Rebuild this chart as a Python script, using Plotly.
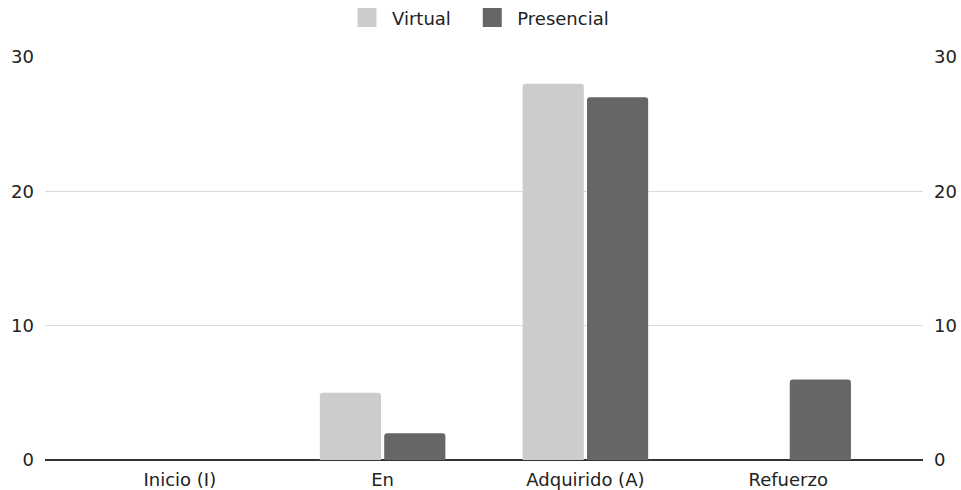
import plotly.graph_objects as go

categories = ["Inicio (I)", "En", "Adquirido (A)", "Refuerzo"]
virtual = [0, 5, 28, 0]
presencial = [0, 2, 27, 6]
y_ticks = [0, 10, 20, 30]
series_names = ["Virtual", "Presencial"]
series_colors = ["#cccccc", "#666666"]

fig = go.Figure()
for name, vals, col in zip(series_names, [virtual, presencial], series_colors):
    fig.add_trace(go.Bar(name=name, x=categories, y=vals, showlegend=False,
                         marker=dict(color=col, line=dict(width=0))))
# legend proxies (square swatches); trailing nbsp widens the gap between entries
for name, col in zip(series_names, series_colors):
    fig.add_trace(go.Scatter(name=name + "\u00a0\u00a0", x=[None], y=[None], mode="markers",
                             marker=dict(symbol="square", size=20, color=col,
                                         line=dict(width=3, color=col))))
fig.add_trace(go.Scatter(x=categories, y=virtual, yaxis="y2", mode="markers",
                         marker=dict(opacity=0), showlegend=False, hoverinfo="skip"))

font = dict(family="DejaVu Sans, Liberation Sans, Arial, sans-serif", size=18, color="#222222")
fig.update_layout(
    width=961, height=490,
    margin=dict(l=45, r=38, t=57, b=30, autoexpand=False),
    paper_bgcolor="white", plot_bgcolor="white",
    barmode="group", bargap=0.365, bargroupgap=0.05,
    barcornerradius=3,
    font=font,
    legend=dict(orientation="h", x=0.5, xanchor="center", y=1.097, yanchor="middle",
                font=font, traceorder="normal", itemwidth=40),
    xaxis=dict(showgrid=False, showline=False, ticks="", tickfont=font, automargin=False,
               range=[-0.665, 3.665], ticklabelstandoff=7),
    yaxis=dict(range=[0, 30], tickvals=y_ticks, showgrid=True, gridcolor="#d9d9d9",
               zeroline=True, zerolinecolor="#333333", zerolinewidth=1.5,
               showline=False, ticks="", ticklabelstandoff=10, tickfont=font, automargin=False),
    yaxis2=dict(range=[0, 30], tickvals=y_ticks, overlaying="y", side="right",
                showgrid=False, zeroline=False, showline=False, ticks="",
                ticklabelstandoff=10, tickfont=font, automargin=False),
)
fig.write_html("out.html", config={"displayModeBar": False},
               post_script="document.body.style.margin='0';document.body.style.padding='0';")
